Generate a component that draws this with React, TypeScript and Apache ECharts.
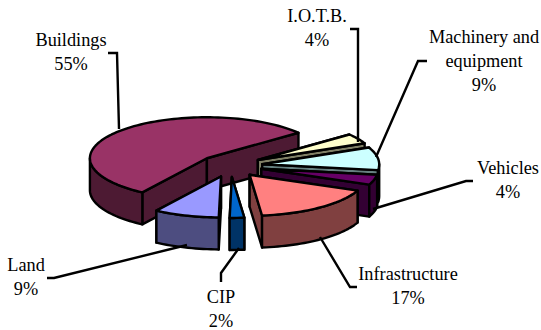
import React, { useEffect, useRef } from "react";
import * as echarts from "echarts";

// Fixed assets by class, share of total in percent, clockwise from Buildings.
const categories = ["Buildings", "I.O.T.B.", "Machinery and\nequipment", "Vehicles", "Infrastructure", "CIP", "Land"];
const shares = [55, 4, 9, 4, 17, 2, 9];
const topColors = ["#993366", "#FFFFCC", "#CCFFFF", "#660066", "#FF8080", "#0066CC", "#9999FF"];
const sideColors = ["#4D1A33", "#808066", "#668080", "#330033", "#804040", "#003366", "#4D4D80"];

// Pseudo-3D geometry of the exploded pie, in pixels.
const CX = 230.5;
const CY = 165.8;
const RADIUS = 117;
const TILT = 0.35;
const DEPTH = 32;
const EXPLODE = 32;
const START_DEG = 123.5;
const OUTLINE = 2.4;

// Label centres and leader lines.
const labelCenters: [number, number][] = [
  [71, 52], [317, 28], [484, 61], [508, 180], [408, 286], [221, 309], [26, 277],
];
const leaders: [number, number][][] = [
  [[108, 53], [117, 53], [119, 129]],
  [[350, 29], [358, 29], [358, 142]],
  [[427, 61], [418, 61], [376, 157]],
  [[473, 181], [466, 181], [373, 209]],
  [[357, 287], [350, 287], [320, 237]],
  [[221, 282], [221, 273], [239, 248]],
  [[47, 278], [54, 278], [187, 245]],
];

const toRad = (d: number) => (d * Math.PI) / 180;

function arcPoints(ax: number, ay: number, from: number, to: number, dy = 0): number[][] {
  const steps = Math.max(2, Math.ceil(Math.abs(to - from) / 2));
  const pts: number[][] = [];
  for (let i = 0; i <= steps; i++) {
    const t = toRad(from + ((to - from) * i) / steps);
    pts.push([ax + RADIUS * Math.cos(t), ay + RADIUS * TILT * Math.sin(t) + dy]);
  }
  return pts;
}

const total = shares.reduce((a, b) => a + b, 0);

function renderSlice(_params: any, api: any) {
  const idx = api.value(1) as number;
  let from = START_DEG;
  for (let i = 0; i < idx; i++) from += (shares[i] / total) * 360;
  const to = from + (api.value(0) / total) * 360;
  const mid = toRad((from + to) / 2);
  const ax = CX + EXPLODE * Math.cos(mid);
  const ay = CY + EXPLODE * TILT * Math.sin(mid);

  const stroke = { stroke: "#000", lineWidth: OUTLINE, lineJoin: "round" };
  const top = { ...stroke, fill: topColors[idx] };
  const side = { ...stroke, fill: sideColors[idx] };
  const children: any[] = [];

  const wall = (deg: number) => {
    const t = toRad(deg);
    const ox = ax + RADIUS * Math.cos(t);
    const oy = ay + RADIUS * TILT * Math.sin(t);
    children.push({
      type: "polygon",
      shape: { points: [[ax, ay], [ox, oy], [ox, oy + DEPTH], [ax, ay + DEPTH]] },
      style: side,
    });
  };
  wall(from);
  wall(to);

  // Only the part of the rim facing the viewer (0..180 degrees) is visible.
  for (const shift of [0, 360]) {
    const a = Math.max(from, shift);
    const b = Math.min(to, shift + 180);
    if (b > a) {
      const upper = arcPoints(ax, ay, a, b);
      const lower = arcPoints(ax, ay, b, a, DEPTH);
      children.push({ type: "polygon", shape: { points: [...upper, ...lower] }, style: side });
    }
  }

  children.push({
    type: "polygon",
    shape: { points: [[ax, ay], ...arcPoints(ax, ay, from, to)] },
    style: top,
  });
  return { type: "group", children };
}

export default function App() {
  const ref = useRef<HTMLDivElement>(null);
  useEffect(() => {
    const chart = echarts.init(ref.current!, undefined, { renderer: "svg" });
    chart.setOption({
      animation: false,
      backgroundColor: "#fff",
      series: [
        {
          type: "custom",
          coordinateSystem: "none",
          renderItem: renderSlice,
          data: shares.map((v, i) => [v, i]),
          silent: true,
        },
      ],
      graphic: [
        ...leaders.map((points) => ({
          type: "polyline",
          z: 10,
          shape: { points },
          style: { stroke: "#000", lineWidth: OUTLINE, fill: "none" },
        })),
        ...categories.map((name, i) => ({
          type: "text",
          z: 11,
          x: labelCenters[i][0],
          y: labelCenters[i][1],
          style: {
            text: `${name}\n${shares[i]}%`,
            fill: "#000",
            font: '18.3px "Liberation Serif"',
            lineHeight: 24,
            align: "center",
            verticalAlign: "middle",
          },
        })),
      ],
    });
    return () => chart.dispose();
  }, []);
  return <div ref={ref} style={{ position: "fixed", left: 0, top: 0, width: 541, height: 330 }} />;
}
